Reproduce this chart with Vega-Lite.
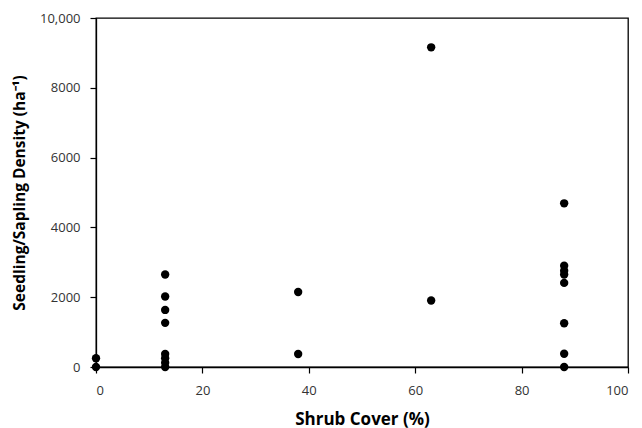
{
  "$schema": "https://vega.github.io/schema/vega-lite/v6.json",
  "width": 532,
  "height": 349,
  "autosize": "none",
  "padding": {"left": 96, "top": 18, "right": 14, "bottom": 61},
  "background": "white",
  "config": {
    "view": {"stroke": "black", "strokeWidth": 1.3},
    "axis": {"grid": false, "domainColor": "black", "domainWidth": 1.3, "tickColor": "black", "tickSize": 6, "tickWidth": 1.2,
      "labelFont": "Open Sans", "labelFontSize": 13, "labelColor": "#333", "titleFont": "Open Sans", "titleFontWeight": "bold", "titleColor": "black"}
  },
  "data": {"values": [
    {"cover": 0, "density": 0},
    {"cover": 0, "density": 250},
    {"cover": 13, "density": 2650},
    {"cover": 13, "density": 2020},
    {"cover": 13, "density": 1635},
    {"cover": 13, "density": 1265},
    {"cover": 13, "density": 372},
    {"cover": 13, "density": 250},
    {"cover": 13, "density": 125},
    {"cover": 13, "density": 0},
    {"cover": 38, "density": 2150},
    {"cover": 38, "density": 372},
    {"cover": 63, "density": 9160},
    {"cover": 63, "density": 1905},
    {"cover": 88, "density": 4690},
    {"cover": 88, "density": 2900},
    {"cover": 88, "density": 2760},
    {"cover": 88, "density": 2650},
    {"cover": 88, "density": 2410},
    {"cover": 88, "density": 1252},
    {"cover": 88, "density": 380},
    {"cover": 88, "density": 0}
  ]},
  "mark": {"type": "point", "filled": true, "color": "black", "opacity": 1, "size": 70},
  "encoding": {
    "x": {"field": "cover", "type": "quantitative", "scale": {"domain": [0, 100], "nice": false, "zero": true},
      "axis": {"values": [0, 20, 40, 60, 80, 100], "title": "Shrub Cover (%)", "titleFontSize": 17, "labelPadding": 11, "titlePadding": 14}},
    "y": {"field": "density", "type": "quantitative", "scale": {"domain": [0, 10000], "nice": false},
      "axis": {"values": [0, 2000, 4000, 6000, 8000, 10000], "title": "Seedling/Sapling Density (ha⁻¹)", "titleFontSize": 15.5, "labelPadding": 10, "titlePadding": 12,
        "labelExpr": "datum.value >= 10000 ? format(datum.value, ',') : format(datum.value, 'd')"}}
  }
}
